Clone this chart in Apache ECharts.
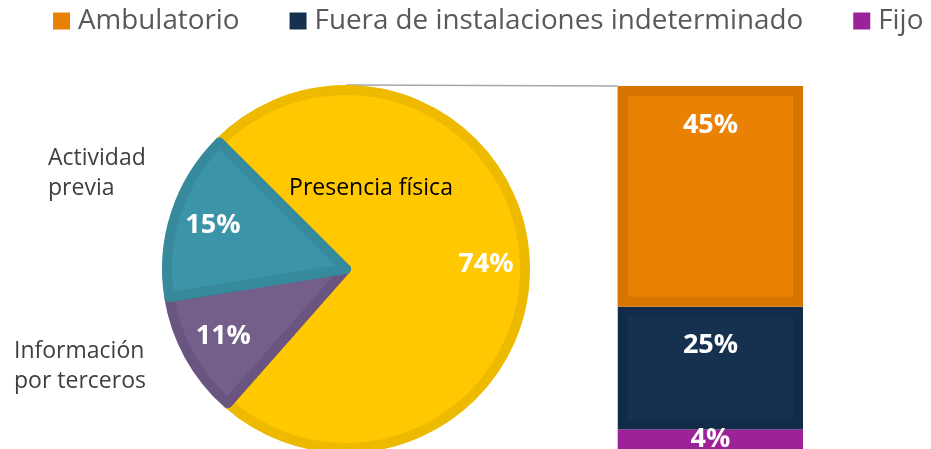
<!DOCTYPE html>
<html>
<head>
<meta charset="utf-8">
<title>Presencia física</title>
<script src="https://cdn.jsdelivr.net/npm/echarts@6/dist/echarts.min.js"></script>
<style>
html, body { margin: 0; padding: 0; background: #fff; }
#chart { width: 931px; height: 449px; }
</style>
</head>
<body>
<div id="chart"></div>
<script>
// pie, clockwise from the top-left edge
var pieNames = ['Presencia física', 'Información por terceros', 'Actividad previa']
var pieValues = [74, 11, 15]
// breakdown of "Presencia física", stacked bottom to top
var barNames = ['Fijo', 'Fuera de instalaciones indeterminado', 'Ambulatorio']
var barValues = [4, 25, 45]
var legendNames = ['Ambulatorio', 'Fuera de instalaciones indeterminado', 'Fijo']

var pieColors = ['#FFC800', '#745E8A', '#3C94A8']
var pieBorders = ['#EDBA00', '#6A5580', '#368A9C']
var barColors = ['#9C2299', '#15314F', '#E98104']
var barBorders = [null, '#112B48', '#D87500']

var font = 'Open Sans'
var cx = 346, cy = 269, r = 179
// where the slice names sit
var nameSpots = [[371, 188, 'center'], [14, 366, 'left'], [48, 173, 'left']]

var chart = echarts.init(document.getElementById('chart'))

var pieData = pieNames.map(function (n, i) {
    return {
        name: n,
        value: pieValues[i],
        itemStyle: { color: pieColors[i], borderColor: pieBorders[i] },
        label: { color: i === 0 ? '#000' : '#404040' }
    }
})

var barSeries = barNames.map(function (n, i) {
    return {
        type: 'bar',
        name: n,
        stack: 'total',
        barWidth: '100%',
        silent: true,
        data: [barValues[i]],
        itemStyle: {
            color: barColors[i],
            borderColor: barBorders[i] || barColors[i],
            borderWidth: barBorders[i] ? 10 : 0
        },
        label: {
            show: true,
            position: i === 0 ? 'inside' : 'insideTop',
            distance: i === 2 ? 26 : 25,
            formatter: '{c}%',
            color: '#fff',
            fontFamily: font,
            fontWeight: 'bold',
            fontSize: 27
        }
    }
})

var option = {
    animation: false,
    textStyle: { fontFamily: font },
    legend: {
        data: legendNames,
        left: 53,
        top: 7,
        padding: 0,
        icon: 'rect',
        itemWidth: 17,
        itemHeight: 17,
        itemGap: 50,
        itemStyle: { borderWidth: 0 },
        textStyle: { fontSize: 27.8, color: '#595959', fontFamily: font, padding: [0, 0, 0, 3] }
    },
    grid: { left: 618, top: 86, width: 185, height: 364 },
    xAxis: { type: 'category', data: [''], show: false },
    yAxis: { type: 'value', min: 0, max: 74, show: false },
    graphic: [
        {
            type: 'line',
            shape: { x1: cx, y1: cy - r - 5, x2: 618, y2: 86 },
            style: { stroke: '#A6A6A6', lineWidth: 1.5 }
        },
        {
            type: 'line',
            shape: { x1: 617.5, y1: 86, x2: 617.5, y2: 449 },
            style: { stroke: '#C8C8C8', lineWidth: 1 }
        }
    ],
    series: [
        {
            type: 'pie',
            center: [cx, cy],
            radius: r,
            startAngle: 135,
            clockwise: true,
            silent: true,
            itemStyle: { borderWidth: 10 },
            data: pieData,
            label: {
                show: true,
                overflow: 'none',
                width: 200,
                fontFamily: font,
                fontSize: 23,
                lineHeight: 30,
                formatter: function (p) {
                    return p.dataIndex === 0 ? p.name : p.name.replace(' ', '\n')
                }
            },
            labelLine: { show: false },
            labelLayout: function (p) {
                var s = nameSpots[p.dataIndex]
                return { x: s[0], y: s[1], align: s[2], verticalAlign: 'middle' }
            }
        },
        // transparent copy, only to place the percentages further out
        {
            type: 'pie',
            center: [cx, cy],
            radius: 274,
            startAngle: 135,
            clockwise: true,
            silent: true,
            itemStyle: { color: 'transparent', borderWidth: 0 },
            data: pieNames.map(function (n, i) { return { name: n, value: pieValues[i] } }),
            label: {
                show: true,
                position: 'inside',
                formatter: '{c}%',
                color: '#fff',
                fontFamily: font,
                fontWeight: 'bold',
                fontSize: 27
            },
            labelLine: { show: false }
        }
    ].concat(barSeries)
}

chart.setOption(option)
window.addEventListener('resize', function () {
    chart.resize()
})
</script>
</body>
</html>
